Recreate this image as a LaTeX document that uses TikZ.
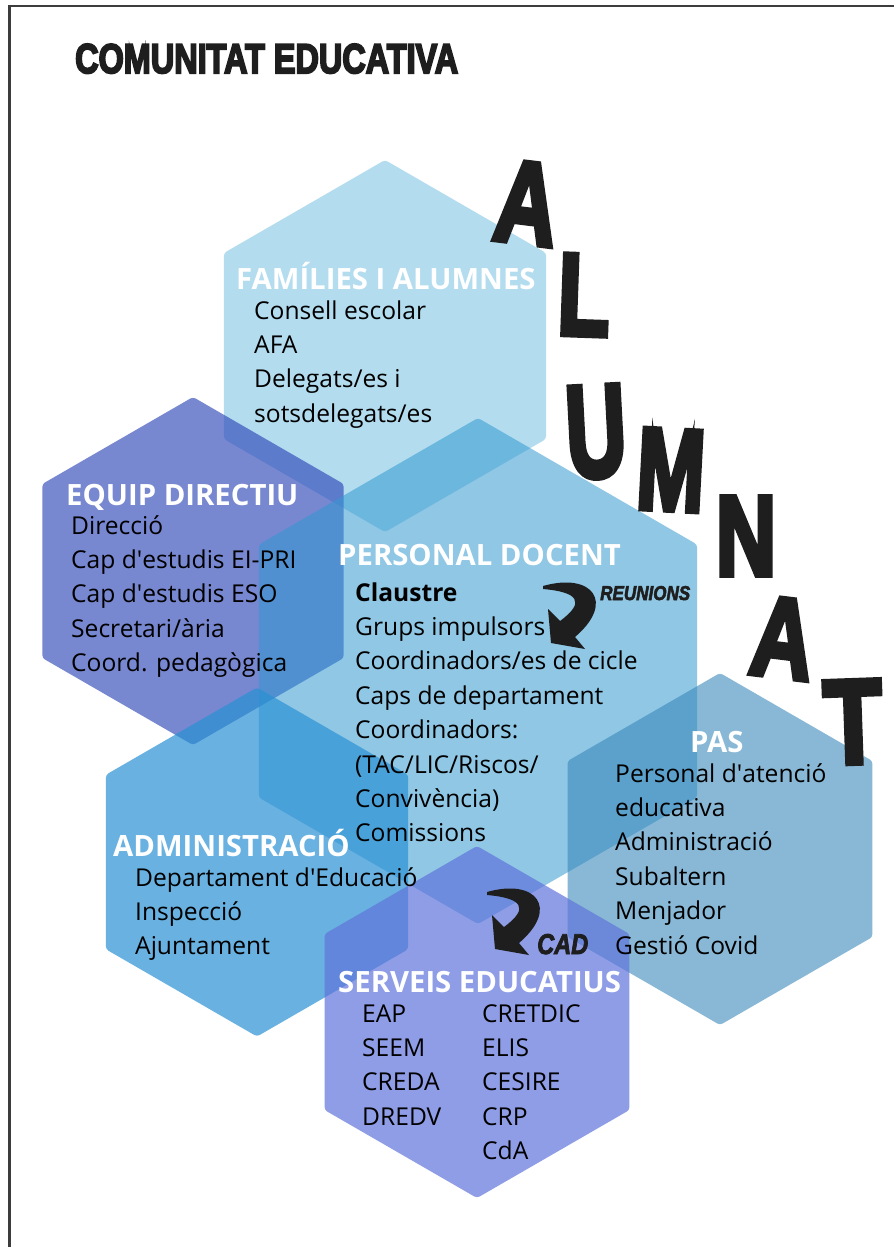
\documentclass[tikz,border=0pt]{standalone}
\usepackage{fontspec}
\setmainfont{Open Sans}
\newfontfamily\grungefont[BoldFeatures={FakeBold=5}, BoldItalicFeatures={FakeBold=3}]{Liberation Sans}
\newcommand\ap{\textquotesingle}
\definecolor{famc}{HTML}{B3DCEF}
\definecolor{equipc}{HTML}{2F48B8}
\definecolor{persc}{HTML}{3399D1}
\definecolor{pasc}{HTML}{3989BB}
\definecolor{admc}{HTML}{2A91D3}
\definecolor{servc}{HTML}{5F74DB}
\definecolor{framec}{HTML}{3C3C3C}
\definecolor{inkc}{HTML}{1E1E1E}
\newcommand\hexfill[4]{%
  \pgfmathsetmacro\hexhw{0.8660254*#4}%
  \pgfmathsetmacro\hexhh{0.5*#4}%
  \fill[#1, rounded corners=3pt] (#2,#3-#4) -- (#2+\hexhw,#3-\hexhh) -- (#2+\hexhw,#3+\hexhh)
    -- (#2,#3+#4) -- (#2-\hexhw,#3+\hexhh) -- (#2-\hexhw,#3-\hexhh) -- cycle;}
\newcommand\curlyarrow[2]{%
  \fill[inkc, shift={(#1,#2)}] (543,586) .. controls (592,572) and (616,602) .. (575,637)
    -- (585,649) -- (551,643) -- (548,609) -- (560,621)
    .. controls (586,602) and (578,592) .. (543,589) -- cycle;}
\begin{document}
\begin{tikzpicture}[x=1pt,y=-1pt,
  body/.style={font=\fontsize{24.6}{29}\selectfont, anchor=base west, inner sep=0pt, text=black},
  head/.style={font=\fontsize{29.3}{34}\selectfont\bfseries, anchor=base west, inner sep=0pt, text=white},
  bigletter/.style={inner sep=0pt, text=inkc},
  famhex/.style={fill=famc},
  equiphex/.style={fill=equipc, fill opacity=0.65},
  pershex/.style={fill=persc, fill opacity=0.55},
  pashex/.style={fill=pasc, fill opacity=0.6},
  admhex/.style={fill=admc, fill opacity=0.7},
  servhex/.style={fill=servc, fill opacity=0.7}]
\useasboundingbox[fill=white] (0,0) rectangle (894,1247);
% frame
\draw[framec, line width=2.5pt] (9.5,1247) -- (9.5,6) -- (894,6);
% hexagons
\hexfill{famhex}{385}{346}{186}
\hexfill{equiphex}{193}{571}{174}
\hexfill{pershex}{478}{671}{253}
\hexfill{pashex}{720}{849}{176}
\hexfill{admhex}{257}{862}{174.5}
\hexfill{servhex}{477}{1022}{176}
% title
\node[anchor=base west, inner sep=0pt, text=inkc] (title) at (75,73)
  {\resizebox{383pt}{29pt}{\grungefont\bfseries COMUNITAT EDUCATIVA}};
% ALUMNAT
\node[bigletter, rotate=-7] (la1) at (527,203) {\resizebox{62pt}{80pt}{\grungefont\bfseries A}};
\node[bigletter, rotate=-2] (ll) at (584,295) {\resizebox{52pt}{80pt}{\grungefont\bfseries L}};
\node[bigletter, rotate=3] (lu) at (596,432) {\resizebox{60pt}{90pt}{\grungefont\bfseries U}};
\node[bigletter, rotate=-3] (lm) at (671,470) {\resizebox{68pt}{80pt}{\grungefont\bfseries M}};
\node[bigletter, rotate=0] (ln) at (746,536) {\resizebox{60pt}{78pt}{\grungefont\bfseries N}};
\node[bigletter, rotate=-7] (la2) at (783,638) {\resizebox{62pt}{78pt}{\grungefont\bfseries A}};
\node[bigletter, rotate=2] (lt) at (853,722) {\resizebox{58pt}{82pt}{\grungefont\bfseries T}};
% arrows
\curlyarrow{0}{0}
\curlyarrow{-56}{306}
\node[anchor=base west, inner sep=0pt, text=inkc] (reunions) at (600,600)
  {\resizebox{90pt}{14pt}{\grungefont\bfseries\itshape REUNIONS}};
\node[anchor=base west, inner sep=0pt, text=inkc] (cad) at (537,954)
  {\resizebox{51pt}{20pt}{\grungefont\bfseries\itshape CAD}};
% headings
\node[head] (hfam) at (236,289) {FAMÍLIES I ALUMNES};
\node[head] (hequip) at (66,505) {EQUIP DIRECTIU};
\node[head] (hpers) at (338,565) {PERSONAL DOCENT};
\node[head] (hpas) at (690,752) {PAS};
\node[head] (hadm) at (113,856) {ADMINISTRACIÓ};
\node[head] (hserv) at (338,992) {SERVEIS EDUCATIUS};
% lists
\foreach \t [count=\i] in {Consell escolar,AFA,{Delegats/es i},{sotsdelegats/es}}
  \node[body, name=fam\i] at (254,{319+34.4*(\i-1)}) {\t};
\foreach \t [count=\i] in {Direcció,Cap d\ap estudis EI-PRI,Cap d\ap estudis ESO,{Secretari/ària},Coord. pedagògica}
  \node[body, name=equip\i] at (71,{534+34.4*(\i-1)}) {\t};
\node[body, font=\fontsize{24.6}{29}\selectfont\bfseries] (pers1) at (355,601) {Claustre};
\foreach \t [count=\i from 2] in {Grups impulsors,{Coordinadors/es de cicle},Caps de departament,Coordinadors:,{(TAC/LIC/Riscos/},Convivència),Comissions}
  \node[body, name=pers\i] at (355,{601+34.4*(\i-1)}) {\t};
\foreach \t [count=\i] in {Personal d\ap atenció,educativa,Administració,Subaltern,Menjador,Gestió Covid}
  \node[body, name=pas\i] at (615,{782+34.4*(\i-1)}) {\t};
\foreach \t [count=\i] in {Departament d\ap Educació,Inspecció,Ajuntament}
  \node[body, name=adm\i] at (135,{886+34.4*(\i-1)}) {\t};
\foreach \t [count=\i] in {EAP,SEEM,CREDA,DREDV}
  \node[body, name=serva\i] at (362,{1022+34.4*(\i-1)}) {\t};
\foreach \t [count=\i] in {CRETDIC,ELIS,CESIRE,CRP,CdA}
  \node[body, name=servb\i] at (482,{1022+34.4*(\i-1)}) {\t};
\end{tikzpicture}
\end{document}
